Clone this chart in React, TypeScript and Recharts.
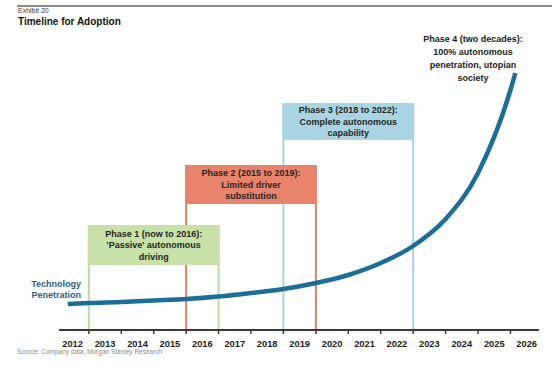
import { ComposedChart, Line, XAxis, YAxis, ReferenceArea } from 'recharts'

// year labels sit in the middle of each band, tick marks on the band edges
const YEARS = [2012, 2013, 2014, 2015, 2016, 2017, 2018, 2019, 2020, 2021, 2022, 2023, 2024, 2025, 2026]
const BAND_EDGES = [2012.5, 2013.5, 2014.5, 2015.5, 2016.5, 2017.5, 2018.5, 2019.5, 2020.5, 2021.5, 2022.5, 2023.5, 2024.5, 2025.5]

// technology penetration curve (arbitrary index)
const CURVE_YEAR = [2011.85, 2012.5, 2013.5, 2014.5, 2015.5, 2016.5, 2017.5, 2018.5, 2019.5, 2020.5, 2021.5, 2022.5, 2023.5, 2024.5, 2025.5, 2025.65]
const CURVE_VALUE = [26, 27, 28, 29.5, 31, 33.5, 37, 41, 47, 55, 67, 84, 111, 157, 240, 257]

// phases, drawn back to front (phase 3 first so earlier phases overlap it)
const PHASE_START = [2018.5, 2015.5, 2012.5]
const PHASE_END = [2022.5, 2019.5, 2016.5]
const PHASE_TOP = [227, 165, 105]
const PHASE_HEADER_BOTTOM = [190, 126, 65]
const PHASE_TEXT = [
  ['Phase 3 (2018 to 2022):', 'Complete autonomous', 'capability'],
  ['Phase 2 (2015 to 2019):', 'Limited driver', 'substitution'],
  ['Phase 1 (now to 2016):', "'Passive' autonomous", 'driving'],
]
const PHASE_FILL = ['#a9d4e1', '#e8846b', '#c7e1a8']
const PHASE_LINE = ['#a9d4e1', '#e08068', '#bcdaa2']

const PHASE4_TEXT = ['Phase 4 (two decades):', '100% autonomous', 'penetration, utopian', 'society']

const data = CURVE_YEAR.map((year, i) => ({ year, value: CURVE_VALUE[i] }))

const FONT = "Arial, 'Liberation Sans', sans-serif"

interface AreaShapeProps {
  x?: number
  y?: number
  width?: number
  height?: number
}

function YearTick(props: { x?: number; y?: number; payload?: { value: number } }) {
  const x = props.x ?? 0
  const y = props.y ?? 0
  const v = props.payload?.value ?? 0
  if (!Number.isInteger(v)) {
    return <line x1={x} x2={x} y1={y - 4} y2={y} stroke="#3a3a3a" strokeWidth={1.5} />
  }
  return (
    <text x={x} y={y + 12.5} textAnchor="middle" fontSize={9.3} fontWeight="bold" fill="#222" fontFamily={FONT}>
      {v}
    </text>
  )
}

function phaseLines(color: string) {
  return (p: AreaShapeProps) => {
    const x = p.x ?? 0
    const y = p.y ?? 0
    const w = p.width ?? 0
    const h = p.height ?? 0
    return (
      <g>
        <line x1={x} x2={x} y1={y} y2={y + h} stroke={color} strokeWidth={2} />
        <line x1={x + w} x2={x + w} y1={y} y2={y + h} stroke={color} strokeWidth={2} />
      </g>
    )
  }
}

function phaseHeader(fill: string, lines: string[]) {
  return (p: AreaShapeProps) => {
    const x = p.x ?? 0
    const y = p.y ?? 0
    const w = p.width ?? 0
    const h = p.height ?? 0
    const lh = 11.5
    const first = y + h / 2 - ((lines.length - 1) * lh) / 2 + 3.2
    return (
      <g>
        <rect x={x - 1} y={y} width={w + 2} height={h} fill={fill} />
        <text textAnchor="middle" fontSize={9} fontWeight="bold" fill="#262626" fontFamily={FONT}>
          {lines.map((t, i) => (
            <tspan key={i} x={x + w / 2} y={first + i * lh}>
              {t}
            </tspan>
          ))}
        </text>
      </g>
    )
  }
}

export default function App() {
  return (
    <div style={{ position: 'relative', width: 553, height: 369, background: '#fff', fontFamily: FONT }}>
      <style>{'body{margin:0}'}</style>
      <div style={{ position: 'absolute', left: 17, top: 5, width: 535, height: 2, background: '#8c8c8c' }} />
      <div style={{ position: 'absolute', left: 18, top: 7, fontSize: 7, lineHeight: '8px', color: '#333' }}>Exhibit 20</div>
      <div style={{ position: 'absolute', left: 18, top: 16, fontSize: 10, lineHeight: '12px', fontWeight: 'bold', color: '#111' }}>
        Timeline for Adoption
      </div>

      <ComposedChart width={553} height={369} data={data} margin={{ top: 30, right: 14, bottom: 9, left: 59 }}>
        <XAxis
          type="number"
          dataKey="year"
          domain={[2011.58, 2026.38]}
          ticks={[...YEARS, ...BAND_EDGES].sort((a, b) => a - b)}
          interval={0}
          tickLine={false}
          tickSize={4}
          tickMargin={0}
          height={30}
          axisLine={{ stroke: '#3a3a3a', strokeWidth: 2 }}
          tick={<YearTick />}
          allowDataOverflow
        />
        <YAxis hide type="number" domain={[0, 300]} allowDataOverflow />
        {PHASE_START.flatMap((start, i) => [
          <ReferenceArea
            key={`lines-${i}`}
            x1={start}
            x2={PHASE_END[i]}
            y1={0}
            y2={PHASE_TOP[i]}
            shape={phaseLines(PHASE_LINE[i])}
          />,
          <ReferenceArea
            key={`head-${i}`}
            x1={start}
            x2={PHASE_END[i]}
            y1={PHASE_HEADER_BOTTOM[i]}
            y2={PHASE_TOP[i]}
            shape={phaseHeader(PHASE_FILL[i], PHASE_TEXT[i])}
          />,
        ])}
        <Line
          type="monotone"
          dataKey="value"
          stroke="#1a6e98"
          strokeWidth={4.5}
          dot={false}
          isAnimationActive={false}
        />
      </ComposedChart>

      <div
        style={{
          position: 'absolute',
          left: 403,
          top: 33,
          width: 140,
          textAlign: 'center',
          fontSize: 9,
          lineHeight: '13px',
          fontWeight: 'bold',
          color: '#222',
        }}
      >
        {PHASE4_TEXT.map((t, i) => (
          <div key={i}>{t}</div>
        ))}
      </div>

      <div
        style={{
          position: 'absolute',
          right: 553 - 81,
          top: 279,
          textAlign: 'right',
          fontSize: 9,
          lineHeight: '11px',
          fontWeight: 'bold',
          color: '#1f5f8c',
          whiteSpace: 'nowrap',
        }}
      >
        <div>Technology</div>
        <div>Penetration</div>
      </div>

      <div style={{ position: 'absolute', left: 17, top: 348, fontSize: 6.5, lineHeight: '8px', color: '#8a8a8a', whiteSpace: 'nowrap' }}>
        Source: Company data, Morgan Stanley Research
      </div>
    </div>
  )
}
